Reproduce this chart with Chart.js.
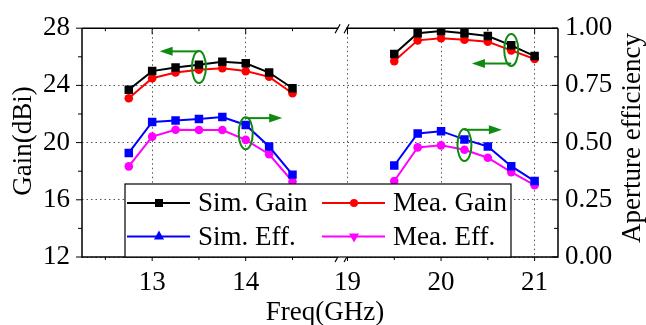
<!DOCTYPE html>
<html>
<head>
<meta charset="utf-8">
<script src="https://cdn.jsdelivr.net/npm/chart.js@4.4.0/dist/chart.umd.min.js"></script>
<style>
  html, body { margin: 0; padding: 0; background: #fff; }
  #wrap { width: 646px; height: 325px; }
</style>
</head>
<body>
<div id="wrap"><canvas id="gainChart"></canvas></div>
<script>
// frequencies (GHz), two bands shown on a broken axis
const freqLow = [12.75, 13, 13.25, 13.5, 13.75, 14, 14.25, 14.5];
const freqHigh = [19.5, 19.75, 20, 20.25, 20.5, 20.75, 21];

// gain (dBi), left axis
const simGainLow = [23.7, 25.0, 25.25, 25.45, 25.65, 25.55, 24.9, 23.8];
const simGainHigh = [26.2, 27.65, 27.8, 27.65, 27.45, 26.8, 26.05];
const meaGainLow = [23.1, 24.5, 24.9, 25.1, 25.2, 25.0, 24.6, 23.45];
const meaGainHigh = [25.7, 27.15, 27.3, 27.2, 27.05, 26.45, 25.85];

// aperture efficiency, right axis
const simEffLow = [0.455, 0.59, 0.597, 0.603, 0.612, 0.577, 0.483, 0.36];
const simEffHigh = [0.40, 0.54, 0.55, 0.514, 0.483, 0.397, 0.332];
const meaEffLow = [0.396, 0.526, 0.556, 0.555, 0.555, 0.512, 0.449, 0.33];
const meaEffHigh = [0.332, 0.479, 0.488, 0.469, 0.434, 0.371, 0.314];

const freqTicks = [13, 14, 19, 20, 21];
const freqMinor = [12.5, 13.5, 14.5, 19.5, 20.5];
const gainTicks = [12, 16, 20, 24, 28];
const effTicks = [0, 0.25, 0.5, 0.75, 1];

const legendLabels = ['Sim. Gain', 'Mea. Gain', 'Sim. Eff.', 'Mea. Eff.'];

// broken axis: 19 GHz sits just after 15 on a continuous scale
const BREAK_AT = 15.03;
const HIGH_START = 15.088;
function toAxis(f) { return f < 16 ? f : f - 19 + HIGH_START; }
function fromAxis(v) { return v < BREAK_AT ? v : v - HIGH_START + 19; }

function series(lo, hi) {
    return [
        ...lo.map((y, i) => ({ x: toAxis(freqLow[i]), y: y })),
        { x: BREAK_AT, y: null },
        ...hi.map((y, i) => ({ x: toAxis(freqHigh[i]), y: y }))
    ];
}

const FONT = '"Liberation Serif", "Times New Roman", serif';
const GREEN = '#0f8a0f';

function arrow(ctx, x0, y, x1) {
    const dir = x1 > x0 ? 1 : -1;
    ctx.beginPath();
    ctx.moveTo(x0, y);
    ctx.lineTo(x1 - dir * 10, y);
    ctx.stroke();
    ctx.beginPath();
    ctx.moveTo(x1, y);
    ctx.lineTo(x1 - dir * 13, y - 4.5);
    ctx.lineTo(x1 - dir * 13, y + 4.5);
    ctx.closePath();
    ctx.fill();
}

const decorations = {
    id: 'decorations',
    afterDatasetsDraw(chart) {
        const ctx = chart.ctx;
        const a = chart.chartArea;
        const x = chart.scales.x, y = chart.scales.y, y1 = chart.scales.y1;
        ctx.save();
        ctx.setLineDash([]);

        // frame (top line + left/bottom ticks outward, top/right inward)
        ctx.strokeStyle = '#000';
        ctx.lineWidth = 1.5;
        ctx.beginPath();
        ctx.moveTo(a.left, a.top);
        ctx.lineTo(a.right, a.top);
        ctx.moveTo(a.left, a.top);
        ctx.lineTo(a.left, a.bottom);
        ctx.lineTo(a.right, a.bottom);
        ctx.lineTo(a.right, a.top);
        ctx.stroke();
        ctx.lineWidth = 1;
        ctx.beginPath();
        gainTicks.forEach(v => { const p = y.getPixelForValue(v); ctx.moveTo(a.left - 6, p); ctx.lineTo(a.left, p); });
        [14, 18, 22, 26].forEach(v => { const p = y.getPixelForValue(v); ctx.moveTo(a.left - 4, p); ctx.lineTo(a.left, p); });
        effTicks.forEach(v => { const p = y1.getPixelForValue(v); ctx.moveTo(a.right - 6, p); ctx.lineTo(a.right, p); });
        [0.125, 0.375, 0.625, 0.875].forEach(v => { const p = y1.getPixelForValue(v); ctx.moveTo(a.right - 4, p); ctx.lineTo(a.right, p); });
        freqTicks.forEach(f => {
            const p = x.getPixelForValue(toAxis(f));
            ctx.moveTo(p, a.bottom); ctx.lineTo(p, a.bottom + 4);
            ctx.moveTo(p, a.top); ctx.lineTo(p, a.top + 6);
        });
        freqMinor.forEach(f => {
            const p = x.getPixelForValue(toAxis(f));
            ctx.moveTo(p, a.bottom); ctx.lineTo(p, a.bottom + 3);
            ctx.moveTo(p, a.top); ctx.lineTo(p, a.top + 3);
        });
        ctx.stroke();

        // axis break marks
        const bx = x.getPixelForValue(BREAK_AT);
        [a.top, a.bottom].forEach(yy => {
            ctx.fillStyle = '#fff';
            ctx.fillRect(bx - 4, yy - 2, 8, 4);
            ctx.strokeStyle = '#000';
            ctx.lineWidth = 1.2;
            ctx.beginPath();
            ctx.moveTo(bx - 7, yy + 5); ctx.lineTo(bx - 2, yy - 4);
            ctx.moveTo(bx + 2, yy + 5); ctx.lineTo(bx + 7, yy - 4);
            ctx.stroke();
        });

        // green ellipses and arrows
        ctx.strokeStyle = GREEN;
        ctx.fillStyle = GREEN;
        ctx.lineWidth = 2;
        const marks = [
            { f: 13.5, cy: y.getPixelForValue(25.28), ay: y.getPixelForValue(26.38), to: 13.08 },
            { f: 14, cy: y1.getPixelForValue(0.541), ay: y1.getPixelForValue(0.607), to: 14.39 },
            { f: 20.75, cy: y.getPixelForValue(26.48), ay: y.getPixelForValue(25.53), to: 20.33 },
            { f: 20.25, cy: y1.getPixelForValue(0.489), ay: y1.getPixelForValue(0.556), to: 20.65 }
        ];
        marks.forEach(m => {
            const cx = x.getPixelForValue(toAxis(m.f));
            ctx.beginPath();
            ctx.ellipse(cx, m.cy, 7, 16, 0, 0, Math.PI * 2);
            ctx.stroke();
            arrow(ctx, cx, m.ay, x.getPixelForValue(toAxis(m.to)));
        });

        // legend box
        const lx = 125, ly = 184, lw = 386, lh = a.bottom - ly;
        ctx.fillStyle = '#fff';
        ctx.fillRect(lx, ly, lw, lh);
        ctx.strokeStyle = '#000';
        ctx.lineWidth = 1.2;
        ctx.strokeRect(lx, ly, lw, lh);
        const items = [
            { c: '#000', s: 'rect', col: 0, row: 0 },
            { c: '#ff0000', s: 'circle', col: 1, row: 0 },
            { c: '#0000ff', s: 'tri', col: 0, row: 1 },
            { c: '#ff00ff', s: 'itri', col: 1, row: 1 }
        ];
        const colX = [127, 322];
        const rowY = [203, 236.5];
        ctx.font = '27px ' + FONT;
        ctx.textBaseline = 'middle';
        items.forEach((it, i) => {
            const x0 = colX[it.col], yy = rowY[it.row];
            ctx.strokeStyle = it.c;
            ctx.fillStyle = it.c;
            ctx.lineWidth = 2;
            ctx.beginPath();
            ctx.moveTo(x0, yy); ctx.lineTo(x0 + 63, yy);
            ctx.stroke();
            const mx = x0 + 32;
            ctx.beginPath();
            if (it.s === 'rect') ctx.rect(mx - 4, yy - 4, 8, 8);
            else if (it.s === 'circle') ctx.arc(mx, yy, 4, 0, Math.PI * 2);
            else if (it.s === 'tri') { ctx.moveTo(mx, yy - 6); ctx.lineTo(mx + 5, yy + 3); ctx.lineTo(mx - 5, yy + 3); }
            else { ctx.moveTo(mx, yy + 6); ctx.lineTo(mx + 5, yy - 3); ctx.lineTo(mx - 5, yy - 3); }
            ctx.fill();
            ctx.fillStyle = '#000';
            ctx.fillText(legendLabels[i], x0 + 71, yy + 1);
        });

        // axis titles
        ctx.fillStyle = '#000';
        ctx.font = '27px ' + FONT;
        ctx.textAlign = 'center';
        ctx.textBaseline = 'alphabetic';
        ctx.fillText('Freq(GHz)', 325, 320);
        ctx.save();
        ctx.translate(31, 141);
        ctx.rotate(-Math.PI / 2);
        ctx.fillText('Gain(dBi)', 0, 0);
        ctx.restore();
        ctx.save();
        ctx.translate(640, 138);
        ctx.rotate(-Math.PI / 2);
        ctx.fillText('Aperture efficiency', 0, 0);
        ctx.restore();
        ctx.restore();
    }
};

function lineSet(label, data, color, style, axis) {
    return {
        label: label,
        data: data,
        yAxisID: axis,
        borderColor: color,
        backgroundColor: color,
        borderWidth: 2,
        pointStyle: style,
        pointRadius: style === 'rect' ? 6 : 4.3,
        pointBorderWidth: 0,
        spanGaps: false,
        tension: 0
    };
}

document.addEventListener('DOMContentLoaded', function () {
    const ctx = document.getElementById('gainChart').getContext('2d');
    new Chart(ctx, {
        type: 'line',
        data: {
            datasets: [
                lineSet('Sim. Eff.', series(simEffLow, simEffHigh), '#0000ff', 'rect', 'y1'),
                lineSet('Mea. Eff.', series(meaEffLow, meaEffHigh), '#ff00ff', 'circle', 'y1'),
                lineSet('Sim. Gain', series(simGainLow, simGainHigh), '#000000', 'rect', 'y'),
                lineSet('Mea. Gain', series(meaGainLow, meaGainHigh), '#ff0000', 'circle', 'y')
            ]
        },
        options: {
            responsive: true,
            maintainAspectRatio: false,
            animation: false,
            layout: { padding: { top: 23, left: 0, right: 0, bottom: 0 } },
            plugins: {
                legend: { display: false },
                tooltip: { enabled: false }
            },
            scales: {
                x: {
                    type: 'linear',
                    min: 12.25,
                    max: toAxis(21.25),
                    afterBuildTicks: s => { s.ticks = freqTicks.map(f => ({ value: toAxis(f) })); },
                    afterFit: s => { s.height = 68; },
                    ticks: {
                        padding: 10,
                        color: '#000',
                        font: { family: FONT, size: 27 },
                        callback: v => String(Math.round(fromAxis(v)))
                    },
                    grid: { color: '#555', lineWidth: 1, drawTicks: false },
                    border: { display: false, dash: [1.5, 3] }
                },
                y: {
                    position: 'left',
                    min: 12,
                    max: 28,
                    afterBuildTicks: s => { s.ticks = gainTicks.map(v => ({ value: v })); },
                    afterFit: s => { s.width = 82; },
                    ticks: {
                        padding: 12,
                        color: '#000',
                        font: { family: FONT, size: 27 }
                    },
                    grid: { color: '#555', lineWidth: 1, drawTicks: false },
                    border: { display: false, dash: [1.5, 3] }
                },
                y1: {
                    position: 'right',
                    min: 0,
                    max: 1,
                    afterBuildTicks: s => { s.ticks = effTicks.map(v => ({ value: v })); },
                    afterFit: s => { s.width = 88; },
                    ticks: {
                        padding: 7,
                        color: '#000',
                        font: { family: FONT, size: 27 },
                        callback: v => v.toFixed(2)
                    },
                    grid: { display: false, drawTicks: false },
                    border: { display: false }
                }
            }
        },
        plugins: [decorations]
    });
});
</script>
</body>
</html>
